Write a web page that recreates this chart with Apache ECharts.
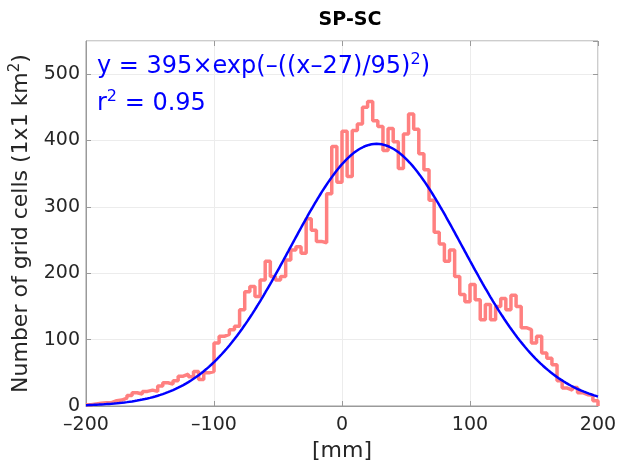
<!DOCTYPE html>
<html>
<head>
<meta charset="utf-8">
<script src="https://cdn.jsdelivr.net/npm/echarts@6/dist/echarts.min.js"></script>
<style>html,body{margin:0;padding:0;background:#fff;}#c{width:617px;height:461px;}</style>
</head>
<body>
<div id="c"></div>
<script>
// Histogram: bins of 4 mm starting at -200
const binStart = -200;
const binWidth = 4;
const counts = [
  2,3,4,5,5,8,9,12,16,20,18,22,24,22,30,35,33,38,45,48,44,52,40,50,52,
  95,105,108,115,120,145,172,180,165,190,218,195,190,195,220,235,240,230,282,265,248,246,320,391,337,
  414,346,415,425,450,459,430,421,385,418,398,358,410,440,417,380,356,310,262,244,218,235,195,168,157,
  183,160,130,153,130,150,162,145,167,150,118,115,95,105,80,72,62,38,27,24,28,20,17,16,8
];
// Gaussian fit parameters (from the chart's annotation)
const fitA = 395, fitMu = 27, fitSigma = 95;
const xTicks = [-200, -100, 0, 100, 200];
const yTicks = [0, 100, 200, 300, 400, 500];

const histData = counts.map((v, i) => [binStart + i * binWidth, v]);
histData.push([binStart + counts.length * binWidth, counts[counts.length - 1]]);
histData.push([binStart + counts.length * binWidth, 0]);

const fitData = [];
for (let x = -200; x <= 200; x += 1) {
  fitData.push([x, fitA * Math.exp(-Math.pow((x - fitMu) / fitSigma, 2))]);
}

const FONT = 'DejaVu Sans';
const fmtNum = v => String(v).replace('-', '\u2013');
const AXC = '#9a9a9a';

const chart = echarts.init(document.getElementById('c'), null, {renderer: 'canvas'});
chart.setOption({
  animation: false,
  backgroundColor: '#fff',
  title: {
    text: 'SP-SC', left: 345, top: 6, textAlign: 'center',
    textStyle: {fontFamily: FONT, fontSize: 19, fontWeight: 'bold', color: '#000'}
  },
  grid: {left: 86, right: 19, top: 41, bottom: 55, show: true, borderColor: AXC, borderWidth: 1,
    outerBoundsMode: 'none', containLabel: false},
  xAxis: [{
    type: 'value', min: -200, max: 200, interval: 100,
    name: '[mm]', nameLocation: 'middle', nameGap: 34,
    nameTextStyle: {fontFamily: FONT, fontSize: 22, color: '#262626'},
    axisLine: {show: true, onZero: false, lineStyle: {color: AXC}},
    axisTick: {show: true, inside: true, length: 5, lineStyle: {color: AXC}},
    axisLabel: {fontFamily: FONT, fontSize: 19, color: '#262626', margin: 10, formatter: fmtNum},
    splitLine: {show: true, lineStyle: {color: '#ececec'}}
  }, {
    type: 'value', min: -200, max: 200, interval: 100, position: 'top',
    axisLine: {show: false, onZero: false}, axisLabel: {show: false}, splitLine: {show: false},
    axisTick: {show: true, inside: true, length: 5, lineStyle: {color: AXC}}
  }],
  yAxis: [{
    type: 'value', min: 0, max: 550, interval: 100,
    name: 'Number of grid cells (1x1 km{sup|2})', nameLocation: 'middle', nameGap: 51,
    nameTextStyle: {fontFamily: FONT, fontSize: 22, color: '#262626',
      rich: {sup: {fontFamily: FONT, fontSize: 15, color: '#262626', verticalAlign: 'top', padding: [0,0,12,0]}}},
    axisLine: {show: true, onZero: false, lineStyle: {color: AXC}},
    axisTick: {show: true, inside: true, length: 5, lineStyle: {color: AXC}},
    axisLabel: {fontFamily: FONT, fontSize: 19, color: '#262626', margin: 6, showMaxLabel: false,
      formatter: v => (yTicks.indexOf(v) >= 0 ? String(v) : '')},
    splitLine: {show: true, lineStyle: {color: '#ececec'}}
  }, {
    type: 'value', min: 0, max: 550, interval: 100, position: 'right',
    axisLine: {show: false, onZero: false}, axisLabel: {show: false}, splitLine: {show: false},
    axisTick: {show: true, inside: true, length: 5, lineStyle: {color: AXC}}
  }],
  series: [{
    type: 'line', step: 'end', data: histData, showSymbol: false, symbol: 'none',
    lineStyle: {color: '#ff8080', width: 3.5}, z: 2
  }, {
    type: 'line', data: fitData, showSymbol: false, symbol: 'none', smooth: false,
    lineStyle: {color: '#0000ff', width: 2.5}, z: 3
  }],
  graphic: [{
    type: 'text', left: 97, top: 52, z: 10,
    style: {
      text: '{a|y = 395\u00d7exp(\u2013((x\u201327)/95)}{s|2}{a|)}',
      rich: {
        a: {fontFamily: FONT, fontSize: 24, fill: '#0000ff', color: '#0000ff'},
        s: {fontFamily: FONT, fontSize: 16, fill: '#0000ff', color: '#0000ff', verticalAlign: 'top', padding: [0,0,14,0]}
      }
    }
  }, {
    type: 'text', left: 97, top: 89, z: 10,
    style: {
      text: '{a|r}{s|2}{a| = 0.95}',
      rich: {
        a: {fontFamily: FONT, fontSize: 24, fill: '#0000ff', color: '#0000ff'},
        s: {fontFamily: FONT, fontSize: 16, fill: '#0000ff', color: '#0000ff', verticalAlign: 'top', padding: [0,0,14,0]}
      }
    }
  }]
});
</script>
</body>
</html>
